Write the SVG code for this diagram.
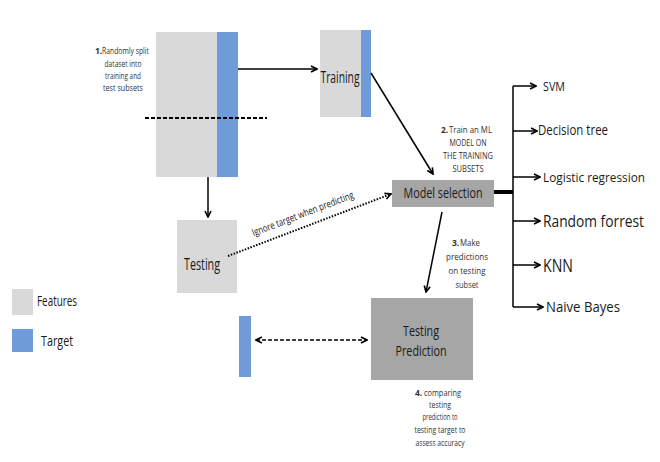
<svg xmlns="http://www.w3.org/2000/svg" width="660" height="462" viewBox="0 0 660 462">
<defs>
<marker id="arr" viewBox="0 0 8 8" refX="7" refY="4" markerWidth="8" markerHeight="8" markerUnits="userSpaceOnUse" orient="auto-start-reverse">
<path d="M1,1 L7,4 L1,7" fill="none" stroke="#000" stroke-width="1.6"/>
</marker>
</defs>
<style>
.feat{fill:#d9d9d9}
.tgt{fill:#6f9bd9}
.dark{fill:#a6a6a6}
text{font-family:"Open Sans","Liberation Sans",sans-serif;fill:#1a1a1a}
.sm{font-size:8.5px;fill:#333}
.b{font-weight:bold}
.ln{stroke:#000;fill:none;stroke-width:1.5}
</style>
<rect x="0" y="0" width="660" height="462" fill="#fff"/>

<g id="dataset">
<rect class="feat" x="156" y="32" width="61" height="145"/>
<rect class="tgt" x="217" y="32" width="21" height="145"/>
</g>
<g id="step1">
<text class="sm b" x="95" y="54">1.</text>
<text class="sm" x="102" y="54" textLength="47" lengthAdjust="spacingAndGlyphs">Randomly split</text>
<text class="sm" x="123" y="67" text-anchor="middle" textLength="37" lengthAdjust="spacingAndGlyphs">dataset into</text>
<text class="sm" x="123" y="79" text-anchor="middle" textLength="36" lengthAdjust="spacingAndGlyphs">training and</text>
<text class="sm" x="123" y="91" text-anchor="middle" textLength="40" lengthAdjust="spacingAndGlyphs">test subsets</text>
</g>
<g id="training">
<rect class="feat" x="320" y="30" width="41" height="87"/>
<rect class="tgt" x="361" y="30" width="10" height="87"/>
<text x="340" y="83" font-size="16" text-anchor="middle" textLength="39" lengthAdjust="spacingAndGlyphs">Training</text>
</g>
<g id="testing">
<rect class="feat" x="177" y="220" width="60" height="73"/>
<text x="202" y="270" font-size="16" text-anchor="middle" textLength="36" lengthAdjust="spacingAndGlyphs">Testing</text>
</g>
<g id="model-selection">
<rect class="dark" x="392" y="180" width="102" height="27"/>
<text x="443" y="198" font-size="14" text-anchor="middle" textLength="79" lengthAdjust="spacingAndGlyphs">Model selection</text>
</g>
<g id="step2">
<text class="sm b" x="441" y="133">2.</text>
<text class="sm" x="449" y="133" textLength="43" lengthAdjust="spacingAndGlyphs">Train an ML</text>
<text class="sm" x="468" y="146" text-anchor="middle" textLength="37" lengthAdjust="spacingAndGlyphs">MODEL ON</text>
<text class="sm" x="468" y="159" text-anchor="middle" textLength="50" lengthAdjust="spacingAndGlyphs">THE TRAINING</text>
<text class="sm" x="468" y="172" text-anchor="middle" textLength="31" lengthAdjust="spacingAndGlyphs">SUBSETS</text>
</g>
<g id="step3">
<text class="sm b" x="452" y="246" font-size="9">3.</text>
<text class="sm" x="460" y="246" font-size="9" textLength="20" lengthAdjust="spacingAndGlyphs">Make</text>
<text class="sm" x="467" y="260" font-size="9" text-anchor="middle" textLength="42" lengthAdjust="spacingAndGlyphs">predictions</text>
<text class="sm" x="467" y="274" font-size="9" text-anchor="middle" textLength="37" lengthAdjust="spacingAndGlyphs">on testing</text>
<text class="sm" x="467" y="288" font-size="9" text-anchor="middle" textLength="23" lengthAdjust="spacingAndGlyphs">subset</text>
</g>
<g id="testing-prediction">
<rect class="dark" x="371" y="298" width="102" height="82"/>
<text x="421" y="336" font-size="14.5" text-anchor="middle" textLength="36" lengthAdjust="spacingAndGlyphs">Testing</text>
<text x="421" y="356" font-size="14.5" text-anchor="middle" textLength="51" lengthAdjust="spacingAndGlyphs">Prediction</text>
</g>
<g id="step4">
<text class="sm b" x="415" y="396" font-size="8">4.</text>
<text class="sm" x="424" y="396" font-size="8" textLength="37" lengthAdjust="spacingAndGlyphs">comparing</text>
<text class="sm" x="440" y="408" font-size="8" text-anchor="middle" textLength="22" lengthAdjust="spacingAndGlyphs">testing</text>
<text class="sm" x="440" y="420" font-size="8" text-anchor="middle" textLength="35" lengthAdjust="spacingAndGlyphs">prediction to</text>
<text class="sm" x="440" y="433" font-size="8" text-anchor="middle" textLength="51" lengthAdjust="spacingAndGlyphs">testing target  to</text>
<text class="sm" x="440" y="446" font-size="8" text-anchor="middle" textLength="49" lengthAdjust="spacingAndGlyphs">assess accuracy</text>
</g>
<g id="testing-target">
<rect class="tgt" x="239" y="316" width="12" height="61"/>
</g>
<g id="models">
<text x="543" y="91" font-size="13" textLength="22" lengthAdjust="spacingAndGlyphs">SVM</text>
<text x="538" y="135" font-size="14" textLength="70" lengthAdjust="spacingAndGlyphs">Decision tree</text>
<text x="543" y="182" font-size="13.5" textLength="102" lengthAdjust="spacingAndGlyphs">Logistic regression</text>
<text x="543" y="227" font-size="15.5" textLength="101" lengthAdjust="spacingAndGlyphs">Random forrest</text>
<text x="543" y="272" font-size="18" textLength="30" lengthAdjust="spacingAndGlyphs">KNN</text>
<text x="546" y="312" font-size="15" textLength="74" lengthAdjust="spacingAndGlyphs">Naive Bayes</text>
</g>
<g id="legend">
<rect class="feat" x="12" y="289" width="21" height="26"/>
<text x="37" y="306" font-size="14" textLength="40" lengthAdjust="spacingAndGlyphs">Features</text>
<rect class="tgt" x="12" y="329" width="21" height="23"/>
<text x="41" y="346" font-size="14" textLength="32" lengthAdjust="spacingAndGlyphs">Target</text>
</g>

<g id="connectors">
<line x1="145" y1="118" x2="267" y2="118" stroke="#000" stroke-width="2" stroke-dasharray="4,2"/>
<line class="ln" x1="238" y1="69" x2="317" y2="69" marker-end="url(#arr)"/>
<line class="ln" x1="371" y1="73" x2="433" y2="174" marker-end="url(#arr)"/>
<line class="ln" x1="208" y1="177" x2="208" y2="217" marker-end="url(#arr)"/>
<line x1="228" y1="256" x2="391" y2="194" stroke="#000" stroke-width="2" stroke-dasharray="1.5,1.5" fill="none" marker-end="url(#arr)"/>
<text transform="translate(304,217) rotate(-21)" font-size="10" text-anchor="middle" fill="#333" textLength="108" lengthAdjust="spacingAndGlyphs">Ignore target when predicting</text>
<line class="ln" x1="442" y1="212" x2="426" y2="292" marker-end="url(#arr)"/>
<line x1="256" y1="340" x2="367" y2="340" stroke="#000" stroke-width="1.5" stroke-dasharray="4,2" marker-start="url(#arr)" marker-end="url(#arr)"/>
<line x1="494" y1="192" x2="513" y2="192" stroke="#000" stroke-width="4"/>
<line class="ln" x1="513" y1="86" x2="513" y2="307"/>
<line class="ln" x1="513" y1="86" x2="536" y2="86" marker-end="url(#arr)"/>
<line class="ln" x1="513" y1="131" x2="537" y2="131" marker-end="url(#arr)"/>
<line class="ln" x1="513" y1="177" x2="540" y2="177" marker-end="url(#arr)"/>
<line class="ln" x1="513" y1="221" x2="540" y2="221" marker-end="url(#arr)"/>
<line class="ln" x1="513" y1="265" x2="540" y2="265" marker-end="url(#arr)"/>
<line class="ln" x1="513" y1="307" x2="543" y2="307" marker-end="url(#arr)"/>
</g>
</svg>
